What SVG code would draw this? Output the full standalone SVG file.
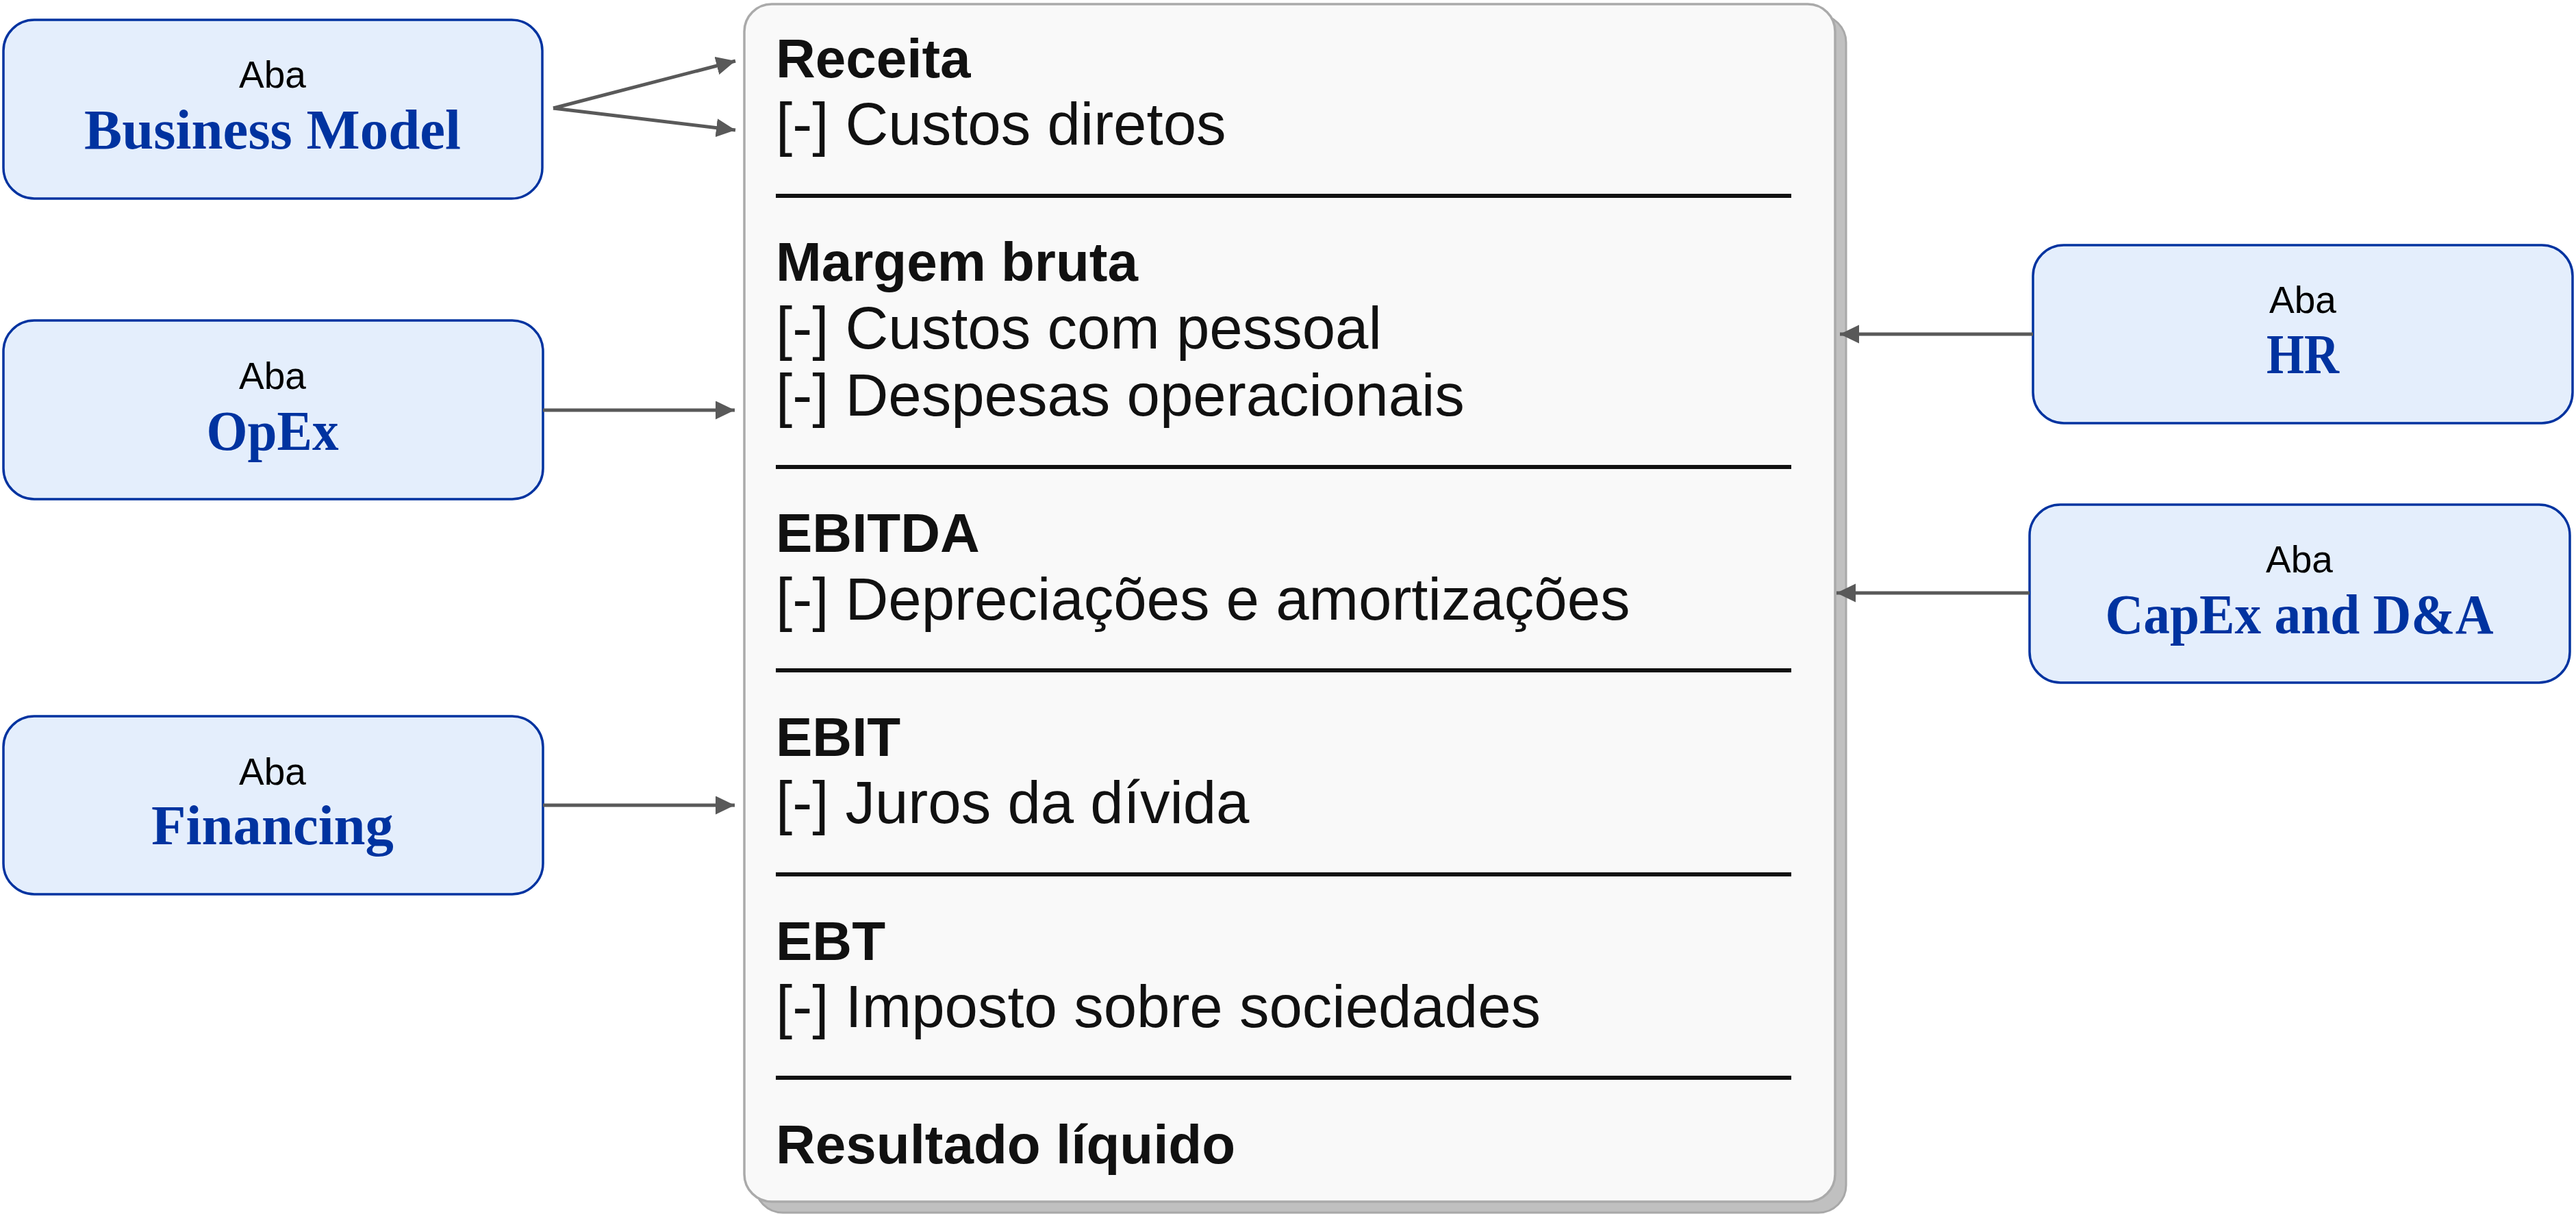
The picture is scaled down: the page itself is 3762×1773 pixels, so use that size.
<svg xmlns="http://www.w3.org/2000/svg" width="3762" height="1773" viewBox="0 0 3762 1773">
<defs>
<style>
.node rect{fill:#e4eefc;stroke:#0033a0;stroke-width:3.5}
.aba{font-family:"Liberation Sans",Arial,sans-serif;font-size:55px;fill:#000;text-anchor:middle}
.ttl{font-family:"Liberation Serif","Times New Roman",serif;font-weight:bold;font-size:82px;fill:#0033a0;text-anchor:middle}
.hd{font-family:"Liberation Sans",Arial,sans-serif;font-weight:bold;font-size:80px;fill:#111}
.it{font-family:"Liberation Sans",Arial,sans-serif;font-size:87px;fill:#111}
.sep{stroke:#111;stroke-width:6}
.conn{stroke:#595959;stroke-width:5;fill:none;marker-end:url(#arr)}
</style>
<marker id="arr" markerUnits="userSpaceOnUse" markerWidth="30" markerHeight="28" refX="28" refY="13.5" orient="auto">
<path d="M0,0 L28,13.5 L0,27 z" fill="#595959"/>
</marker>
</defs>
<rect width="3762" height="1773" fill="#ffffff"/>

<g id="panel">
<rect x="1103" y="22" width="1593" height="1749" rx="40" fill="#c0c0c0" stroke="#a8a8a8" stroke-width="3"/>
<rect x="1087" y="6" width="1593" height="1749" rx="40" fill="#f9f9f9" stroke="#aaaaaa" stroke-width="3.5"/>
<text class="hd" x="1133" y="113">Receita</text>
<text class="it" x="1133" y="211">[-] Custos diretos</text>
<line class="sep" x1="1133" y1="286" x2="2616" y2="286"/>
<text class="hd" x="1133" y="410">Margem bruta</text>
<text class="it" x="1133" y="509">[-] Custos com pessoal</text>
<text class="it" x="1133" y="607">[-] Despesas operacionais</text>
<line class="sep" x1="1133" y1="682" x2="2616" y2="682"/>
<text class="hd" x="1133" y="806">EBITDA</text>
<text class="it" x="1133" y="905">[-] Depreciações e amortizações</text>
<line class="sep" x1="1133" y1="979" x2="2616" y2="979"/>
<text class="hd" x="1133" y="1104">EBIT</text>
<text class="it" x="1133" y="1202">[-] Juros da dívida</text>
<line class="sep" x1="1133" y1="1277" x2="2616" y2="1277"/>
<text class="hd" x="1133" y="1402">EBT</text>
<text class="it" x="1133" y="1500">[-] Imposto sobre sociedades</text>
<line class="sep" x1="1133" y1="1574" x2="2616" y2="1574"/>
<text class="hd" x="1133" y="1699">Resultado líquido</text>
</g>

<g id="node-business-model" class="node">
<rect x="5" y="29" width="787" height="261" rx="45"/>
<text class="aba" x="398" y="128">Aba</text>
<text class="ttl" x="398" y="217" textLength="550" lengthAdjust="spacingAndGlyphs">Business Model</text>
</g>
<g id="node-opex" class="node">
<rect x="5" y="468" width="788" height="261" rx="45"/>
<text class="aba" x="398" y="568">Aba</text>
<text class="ttl" x="398" y="657" textLength="193" lengthAdjust="spacingAndGlyphs">OpEx</text>
</g>
<g id="node-financing" class="node">
<rect x="5" y="1046" width="788" height="260" rx="45"/>
<text class="aba" x="398" y="1146">Aba</text>
<text class="ttl" x="398" y="1233" textLength="354" lengthAdjust="spacingAndGlyphs">Financing</text>
</g>
<g id="node-hr" class="node">
<rect x="2969" y="358" width="788" height="260" rx="45"/>
<text class="aba" x="3363" y="457">Aba</text>
<text class="ttl" x="3363" y="545" textLength="106" lengthAdjust="spacingAndGlyphs">HR</text>
</g>
<g id="node-capex" class="node">
<rect x="2964" y="737" width="789" height="260" rx="45"/>
<text class="aba" x="3358" y="836">Aba</text>
<text class="ttl" x="3358" y="925" textLength="567" lengthAdjust="spacingAndGlyphs">CapEx and D&amp;A</text>
</g>

<g id="connectors">
<line class="conn" x1="808" y1="158" x2="1074" y2="89"/>
<line class="conn" x1="808" y1="158" x2="1074" y2="190"/>
<line class="conn" x1="793" y1="599" x2="1073" y2="599"/>
<line class="conn" x1="793" y1="1176" x2="1073" y2="1176"/>
<line class="conn" x1="2969" y1="488" x2="2687" y2="488"/>
<line class="conn" x1="2964" y1="866" x2="2682" y2="866"/>
</g>
</svg>
